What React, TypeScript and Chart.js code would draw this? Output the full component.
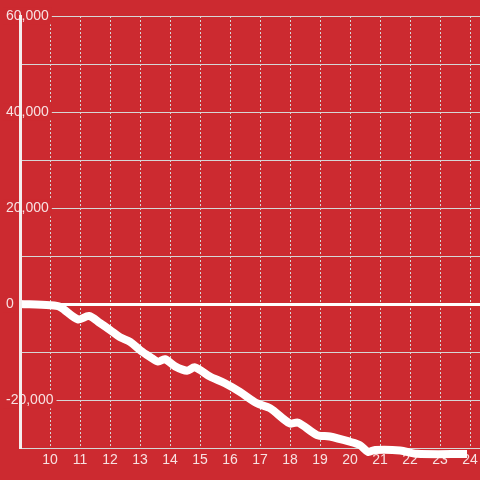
import React, { useEffect, useRef } from "react";
import { Chart, registerables } from "chart.js";

Chart.register(...registerables);

const RED = "#cc2a30";
const TEXT = "rgba(255,255,255,0.86)";
const GRID = "#d6d6d6";

// hours (x) and values (y)
const hours = [9, 10, 10.33, 10.93, 11.3, 11.67, 12, 12.33, 12.67, 13, 13.33, 13.6, 13.83, 14.17, 14.57, 14.83, 15.33, 15.83, 16.33, 16.9, 17.33, 18, 18.27, 18.9, 19.33, 20, 20.33, 20.6, 20.83, 21.67, 22.23, 23.9];
const values = [0, -250, -600, -3200, -2500, -4000, -5400, -6900, -7900, -9600, -11000, -12000, -11500, -13000, -13900, -13200, -15100, -16500, -18300, -20700, -21700, -24900, -24700, -27300, -27600, -28700, -29400, -30800, -30400, -30500, -31200, -31250];

const xTickValues = [10, 11, 12, 13, 14, 15, 16, 17, 18, 19, 20, 21, 22, 23, 24];
const yLabelValues = [60000, 40000, 20000, 0, -20000];
const yMin = -30000;
const yMax = 60000;
const yStep = 10000;
const xMin = 9;
const xMax = 24.333;

export default function App() {
  const ref = useRef<HTMLCanvasElement>(null);

  useEffect(() => {
    if (!ref.current) return;
    const chart = new Chart(ref.current, {
      type: "line",
      data: {
        datasets: [
          {
            data: hours.map((h, i) => ({ x: h, y: values[i] })),
            borderColor: "#ffffff",
            borderWidth: 8,
            pointRadius: 0,
            tension: 0.3,
            fill: false,
            clip: false as any,
            borderCapStyle: "butt",
            borderJoinStyle: "round",
          },
        ],
      },
      options: {
        animation: false,
        responsive: false,
        layout: { padding: { top: 16, right: 0, left: 0, bottom: 0 } },
        plugins: { legend: { display: false }, tooltip: { enabled: false } },
        scales: {
          x: {
            type: "linear",
            min: xMin,
            max: xMax,
            afterBuildTicks: (scale: any) => {
              scale.ticks = xTickValues.map((v) => ({ value: v }));
            },
            afterFit: (scale: any) => {
              scale.height = 32;
              scale.paddingLeft = 0;
              scale.paddingRight = 0;
            },
            grid: { color: GRID, lineWidth: 1, drawTicks: false, borderDash: [2, 2] } as any,
            border: { display: false, dash: [2, 2] },
            ticks: {
              color: TEXT,
              font: { family: "'Liberation Sans', Arial, sans-serif", size: 14 },
              padding: 4,
              maxRotation: 0,
              autoSkip: false,
              callback: (v: any) => String(v),
            },
          },
          y: {
            type: "linear",
            min: yMin,
            max: yMax,
            afterFit: (scale: any) => {
              scale.width = 20;
              scale.paddingTop = 0;
              scale.paddingBottom = 0;
            },
            grid: {
              drawTicks: false,
              color: (ctx: any) => (ctx.tick && ctx.tick.value === 0 ? "#ffffff" : GRID),
              lineWidth: (ctx: any) => (ctx.tick && ctx.tick.value === 0 ? 3 : 1),
            },
            border: { display: true, color: "#f4eeee", width: 3, z: 1 },
            ticks: {
              stepSize: yStep,
              mirror: true,
              padding: -14,
              crossAlign: "near",
              autoSkip: false,
              color: TEXT,
              font: { family: "'Liberation Sans', Arial, sans-serif", size: 14 },
              showLabelBackdrop: true,
              backdropPadding: { left: 3, right: 3, top: 0, bottom: 0 },
              backdropColor: (ctx: any) => (ctx.tick && ctx.tick.label ? RED : "rgba(0,0,0,0)"),
              callback: (v: any) =>
                yLabelValues.includes(Number(v)) ? Number(v).toLocaleString("en-US") : "",
            } as any,
          },
        },
      },
    });
    return () => chart.destroy();
  }, []);

  return (
    <div style={{ position: "fixed", left: 0, top: 0, width: 480, height: 480, background: RED }}>
      <canvas ref={ref} width={480} height={480} style={{ display: "block", width: 480, height: 480 }} />
    </div>
  );
}
